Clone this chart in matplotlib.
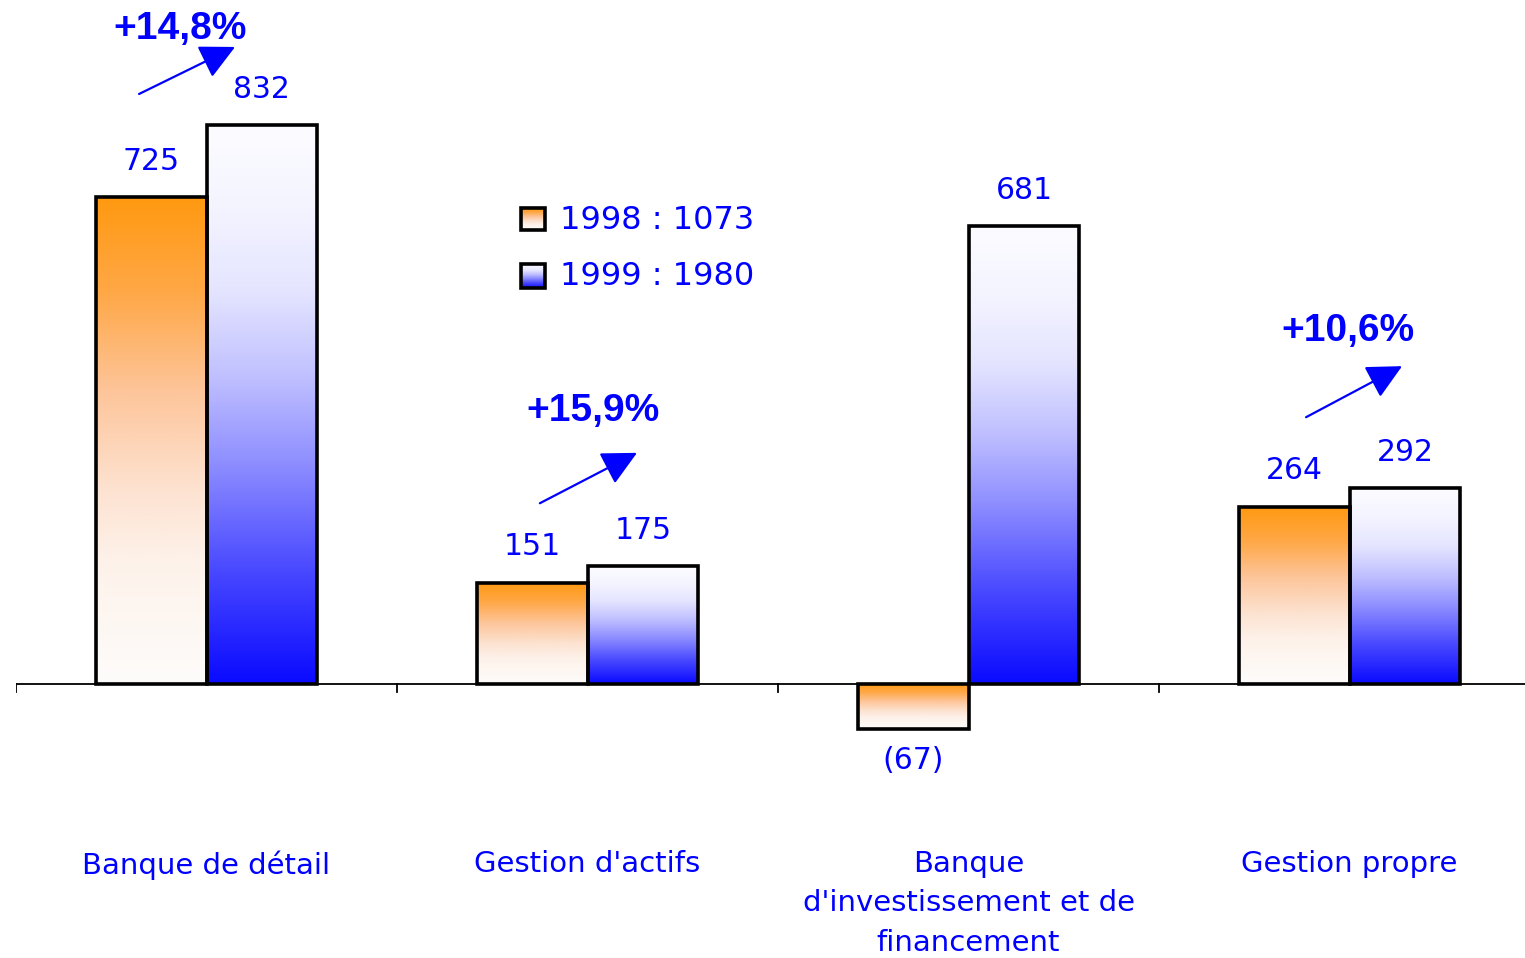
import numpy as np
import matplotlib.pyplot as plt
from matplotlib.colors import LinearSegmentedColormap

# Data
categories = ["Banque de détail", "Gestion d'actifs",
              "Banque\nd'investissement et de\nfinancement", "Gestion propre"]
values_1998 = [725, 151, -67, 264]
values_1999 = [832, 175, 681, 292]
labels_1998 = ["725", "151", "(67)", "264"]
labels_1999 = ["832", "175", "681", "292"]
growth_labels = ["+14,8%", "+15,9%", None, "+10,6%"]
legend_labels = ["1998 : 1073", "1999 : 1980"]

# Annotation layout (data units): text pos, arrow tail, arrow tip
growth_layout = [
    ((-0.07, 975), (-0.177, 878), (0.075, 948)),
    ((1.014, 406), (0.875, 269), (1.130, 344)),
    None,
    ((2.996, 525), (2.886, 397), (3.138, 473)),
]

BLUE = '#0000ff'
orange_cmap = LinearSegmentedColormap.from_list(
    'or', [(0, '#fefcfb'), (0.25, '#fdf2ea'), (0.4, '#fde2d0'),
           (0.6, '#fdc59a'), (0.8, '#ffa848'), (1, '#ff9910')])
blue_cmap = LinearSegmentedColormap.from_list(
    'bl', [(0, '#0a0aff'), (0.2, '#4848ff'), (0.4, '#9090ff'),
           (0.55, '#c0c0ff'), (0.7, '#e4e4ff'), (0.85, '#f4f4ff'), (1, '#fcfcff')])
grad = np.linspace(0, 1, 256).reshape(-1, 1)

fig = plt.figure(figsize=(15.25, 9.58), dpi=100)
ax = fig.add_axes([16 / 1525, 0, 1524 / 1525, 1])
ax.set_axis_off()

width = 0.291
x = np.arange(len(categories))


def gradient_bar(x0, bottom, top, cmap):
    lo, hi = min(bottom, top), max(bottom, top)
    ax.imshow(grad, extent=[x0, x0 + width, lo, hi], origin='lower',
              aspect='auto', cmap=cmap, zorder=2, interpolation='bicubic')


for i in range(len(categories)):
    gradient_bar(x[i] - width, 0, values_1998[i], orange_cmap)
    gradient_bar(x[i], 0, values_1999[i], blue_cmap)

ax.bar(x - width / 2, values_1998, width, facecolor='none', edgecolor='black',
       linewidth=2.6, zorder=3)
ax.bar(x + width / 2, values_1999, width, facecolor='none', edgecolor='black',
       linewidth=2.6, zorder=3)

# value labels
for i in range(len(categories)):
    v = values_1998[i]
    ax.text(x[i] - width / 2, v + 53 if v >= 0 else v - 47, labels_1998[i],
            ha='center', va='center', color=BLUE, fontsize=21.5)
    v = values_1999[i]
    ax.text(x[i] + width / 2, v + 53, labels_1999[i],
            ha='center', va='center', color=BLUE, fontsize=21.5)

# axis line and ticks
ax.plot([-0.5, 3.6], [0, 0], color='black', lw=1.3, zorder=1)
for b in np.arange(-0.5, 3.5, 1.0):
    ax.plot([b, b], [0, -12], color='black', lw=1.3)

# category labels
for i, c in enumerate(categories):
    ax.text(x[i], -(850 - 684) / 0.672, c, ha='center', va='top', color=BLUE,
            fontsize=21, linespacing=1.52)

# growth annotations
for lab, lay in zip(growth_labels, growth_layout):
    if lab is None:
        continue
    (tx, ty), tail, tip = lay
    ax.text(tx, ty, lab, ha='center', va='center', color=BLUE, fontsize=28,
            fontweight='bold', family='Liberation Sans')
    ax.annotate('', xy=tip, xytext=tail,
                arrowprops=dict(arrowstyle='-|>,head_length=0.9,head_width=0.45',
                                color=BLUE, lw=1.6, mutation_scale=24,
                                shrinkA=0, shrinkB=0))

# legend
leg_x0, leg_x1 = 0.8255, 0.888
for (y0, y1, ty), cmap, lab in zip([(676, 708, 690), (589, 625, 607)],
                                   [orange_cmap, blue_cmap], legend_labels):
    ax.imshow(grad, extent=[leg_x0, leg_x1, y0, y1], origin='lower',
              aspect='auto', cmap=cmap, zorder=2)
    ax.add_patch(plt.Rectangle((leg_x0, y0), leg_x1 - leg_x0, y1 - y0,
                               fill=False, edgecolor='black', lw=2.6, zorder=3))
    ax.text(0.928, ty, lab, ha='left', va='center', color=BLUE, fontsize=23)

ax.set_xlim(-0.5, 3.5)
ax.set_ylim(-(958 - 684) / 0.672, 684 / 0.672)

fig.savefig('out.png', dpi=100)
